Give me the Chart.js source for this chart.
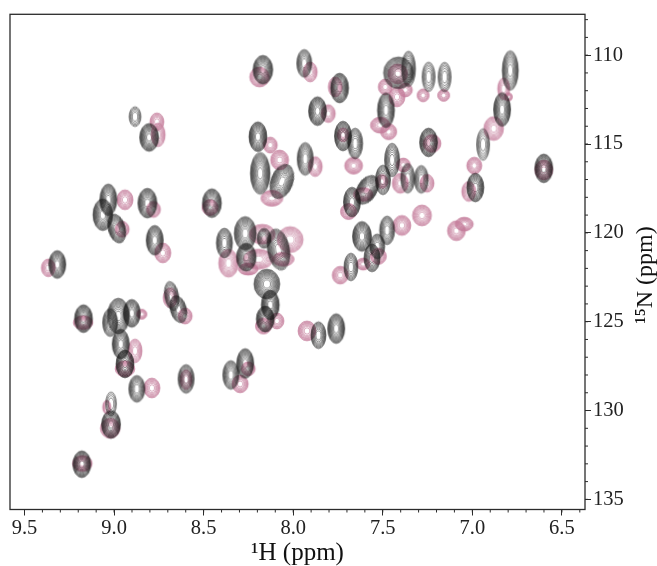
<!DOCTYPE html>
<html>
<head>
<meta charset="utf-8">
<title>HSQC</title>
<script src="https://cdn.jsdelivr.net/npm/chart.js@4"></script>
<style>
    body { margin: 0; background: #fff; }
    canvas { display: block; }
</style>
</head>
<body>
<canvas id="hsqc" width="657" height="566"></canvas>
<script>
// Тики осей
const hTicks = [9.5, 9.0, 8.5, 8.0, 7.5, 7.0, 6.5];
const nTicks = [110, 115, 120, 125, 130, 135];
const hMinorTicks = [9.5, 9.4, 9.3, 9.2, 9.1, 9.0, 8.9, 8.8, 8.7, 8.6, 8.5, 8.4, 8.3, 8.2, 8.1, 8.0, 7.9, 7.8, 7.7, 7.6, 7.5, 7.4, 7.3, 7.2, 7.1, 7.0, 6.9, 6.8, 6.7, 6.6, 6.5, 6.4];
const nMinorTicks = [108, 109, 110, 111, 112, 113, 114, 115, 116, 117, 118, 119, 120, 121, 122, 123, 124, 125, 126, 127, 128, 129, 130, 131, 132, 133, 134, 135];

// Тёмный спектр: положение пика (ppm), ширина пика (ppm), наклон (град)
const grayH = [8.169, 7.938, 7.864, 8.883, 8.804, 8.197, 8.184, 8.063, 7.933, 9.032, 9.063, 8.985, 8.814, 8.454, 8.773, 8.384, 8.268, 8.262, 8.082, 9.317, 8.147, 8.128, 8.156, 9.171, 8.976, 8.901, 9.022, 8.963, 8.939, 8.873, 8.598, 8.348, 8.268, 9.017, 9.017, 9.18, 8.678, 8.641, 7.859, 7.76, 7.741, 7.722, 7.654, 7.482, 7.412, 7.356, 7.244, 7.155, 6.788, 6.834, 6.94, 7.244, 6.601, 6.983, 7.448, 7.499, 7.588, 7.672, 7.361, 7.285, 7.616, 7.476, 7.56, 7.531, 7.678, 8.162];
const grayN = [110.82, 110.46, 113.15, 113.46, 114.63, 114.59, 116.65, 117.11, 115.84, 118.14, 118.98, 119.76, 118.33, 118.33, 120.42, 120.57, 120.03, 121.37, 120.94, 121.78, 122.88, 124.06, 124.85, 124.83, 124.68, 124.53, 125.05, 126.26, 127.38, 128.78, 128.22, 128.0, 127.35, 129.62, 130.78, 133.02, 123.56, 124.3, 125.76, 125.39, 111.85, 114.55, 114.97, 113.1, 110.99, 110.77, 111.22, 111.23, 110.86, 113.06, 115.03, 114.91, 116.37, 117.45, 115.9, 117.02, 117.58, 118.27, 116.93, 116.99, 120.2, 119.86, 121.41, 120.76, 121.92, 120.31];
const grayWidthH = [0.11, 0.084, 0.1, 0.067, 0.106, 0.1, 0.11, 0.123, 0.09, 0.095, 0.11, 0.095, 0.106, 0.106, 0.095, 0.09, 0.123, 0.11, 0.123, 0.095, 0.145, 0.1, 0.1, 0.1, 0.123, 0.095, 0.084, 0.095, 0.1, 0.09, 0.09, 0.09, 0.095, 0.061, 0.106, 0.1, 0.078, 0.09, 0.084, 0.095, 0.1, 0.095, 0.084, 0.095, 0.168, 0.078, 0.073, 0.073, 0.09, 0.095, 0.073, 0.1, 0.1, 0.095, 0.084, 0.084, 0.11, 0.095, 0.078, 0.078, 0.106, 0.084, 0.09, 0.084, 0.078, 0.078];
const grayWidthN = [1.62, 1.57, 1.62, 1.12, 1.57, 1.68, 2.35, 2.02, 1.85, 1.79, 1.79, 1.68, 1.68, 1.62, 1.68, 1.68, 1.9, 1.57, 2.35, 1.57, 1.68, 1.68, 1.46, 1.57, 2.02, 1.57, 1.57, 1.68, 1.57, 1.51, 1.62, 1.62, 1.68, 1.34, 1.57, 1.51, 1.68, 1.57, 1.51, 1.68, 1.68, 1.68, 1.74, 1.96, 1.79, 2.02, 1.68, 1.68, 2.24, 1.9, 1.79, 1.62, 1.62, 1.62, 1.9, 1.68, 1.79, 1.68, 1.68, 1.57, 1.68, 1.62, 1.57, 1.4, 1.57, 1.12];
const grayTilt = [0, 0, 0, 0, 0, 0, 0, 20, 0, 0, 0, -15, 0, 0, 0, 0, 0, 0, -10, 0, 0, 0, 0, 0, 0, 0, 0, 0, 0, 0, 0, 0, 0, 0, 0, 0, -10, -15, 0, 0, 0, 0, 0, 0, 0, 0, 0, 0, 0, 0, 0, 0, 0, 0, 0, 0, 30, 0, 0, 0, 0, 0, 0, 0, 0, 0];

// Розовый спектр
const pinkH = [8.188, 7.905, 7.804, 8.761, 8.754, 8.128, 8.076, 7.877, 8.939, 8.78, 8.464, 8.955, 8.728, 8.361, 9.367, 8.119, 8.017, 8.173, 8.195, 8.056, 8.251, 8.603, 8.687, 8.883, 8.939, 8.789, 8.598, 8.296, 8.251, 9.041, 9.022, 9.173, 8.845, 9.177, 8.166, 8.091, 7.923, 7.765, 7.721, 7.663, 7.514, 7.467, 7.421, 7.486, 7.374, 7.417, 7.275, 7.16, 6.825, 6.799, 6.881, 7.225, 6.989, 6.601, 7.02, 7.281, 7.393, 7.089, 7.045, 7.691, 7.609, 7.385, 7.253, 7.402, 7.737, 7.609, 7.525, 7.504];
const pinkN = [111.23, 110.95, 113.29, 113.75, 114.48, 115.06, 115.9, 116.27, 118.14, 118.68, 118.57, 119.8, 121.13, 121.71, 121.97, 118.05, 120.38, 120.08, 121.48, 121.48, 122.04, 124.68, 123.65, 126.64, 127.65, 128.73, 128.26, 128.5, 127.65, 129.81, 131.0, 125.05, 124.58, 132.98, 125.24, 124.96, 125.52, 111.79, 114.48, 116.22, 113.94, 114.31, 112.35, 111.79, 111.96, 111.05, 112.26, 112.26, 111.89, 112.35, 114.13, 114.97, 116.22, 116.46, 117.67, 119.02, 119.58, 119.88, 119.51, 118.8, 117.84, 116.18, 117.21, 117.21, 122.38, 121.76, 121.32, 117.11];
const pinkWidthH = [0.11, 0.078, 0.078, 0.078, 0.078, 0.078, 0.1, 0.078, 0.09, 0.078, 0.09, 0.078, 0.09, 0.11, 0.078, 0.123, 0.145, 0.145, 0.168, 0.123, 0.11, 0.078, 0.078, 0.078, 0.11, 0.09, 0.067, 0.09, 0.078, 0.045, 0.11, 0.11, 0.056, 0.11, 0.09, 0.078, 0.1, 0.078, 0.067, 0.1, 0.11, 0.09, 0.09, 0.078, 0.078, 0.11, 0.067, 0.067, 0.067, 0.045, 0.11, 0.1, 0.084, 0.1, 0.078, 0.106, 0.1, 0.1, 0.1, 0.09, 0.11, 0.078, 0.078, 0.09, 0.09, 0.078, 0.09, 0.067];
const pinkWidthN = [1.12, 1.12, 1.0, 1.0, 1.34, 0.9, 1.12, 1.12, 1.12, 0.9, 0.9, 0.9, 1.12, 1.57, 1.0, 0.9, 1.46, 1.12, 1.12, 0.78, 0.67, 0.9, 1.12, 1.34, 0.9, 1.12, 1.12, 1.0, 0.78, 0.78, 1.12, 0.78, 0.56, 0.9, 0.9, 0.9, 1.12, 1.12, 0.78, 0.95, 0.9, 0.9, 1.12, 0.9, 0.78, 1.12, 0.73, 0.67, 1.23, 0.45, 1.34, 1.0, 0.95, 1.12, 1.12, 1.18, 1.12, 1.12, 0.78, 0.9, 0.78, 0.78, 1.0, 1.12, 1.0, 0.67, 0.9, 0.78];

const serif = '"Liberation Serif", serif';
const inkColor = '#2b2b2b';

function buildPeaks(h, n, wH, wN, tilt) {
    return h.map(function(v, i) {
        return { x: v, y: n[i], wH: wH[i], wN: wN[i], tilt: tilt ? tilt[i] : 0 };
    });
}

// Картинка пика: концентрические контуры, шаг как у гауссова пика
const spriteCache = {};
function peakSprite(wPx, hPx, color, lineWidth, levels) {
    const key = [Math.round(wPx), Math.round(hPx), color].join('_');
    if (spriteCache[key]) return spriteCache[key];

    const size = Math.ceil(Math.max(wPx, hPx)) + 6;
    const c = document.createElement('canvas');
    c.width = size;
    c.height = size;
    const g = c.getContext('2d');
    g.filter = 'blur(0.35px)';
    g.strokeStyle = color;
    g.lineWidth = lineWidth;
    for (let k = 0; k < levels; k++) {
        const t = Math.sqrt(1 - k / levels);
        g.beginPath();
        g.ellipse(size / 2, size / 2, wPx / 2 * t, hPx / 2 * t, 0, 0, Math.PI * 2);
        g.stroke();
    }
    spriteCache[key] = c;
    return c;
}

function pxSize(ctx) {
    const sx = ctx.chart.scales.x;
    const sy = ctx.chart.scales.y;
    return {
        w: Math.abs(sx.getPixelForValue(8) - sx.getPixelForValue(8 + ctx.raw.wH)),
        h: Math.abs(sy.getPixelForValue(120) - sy.getPixelForValue(120 + ctx.raw.wN))
    };
}

function grayStyle(ctx) {
    const s = pxSize(ctx);
    const levels = Math.min(13, Math.max(4, Math.round(1.33 * s.w - 11)));
    return peakSprite(s.w, s.h, 'rgba(25,25,25,0.8)', 0.6, levels);
}

function pinkStyle(ctx) {
    const s = pxSize(ctx);
    const levels = Math.min(10, Math.round(s.w * 0.45) + 2);
    return peakSprite(s.w, s.h, 'rgba(196,125,155,0.9)', 0.7, levels);
}

// Рамка, мелкие риски и подпись оси 15N
const framePlugin = {
    id: 'frame',
    afterDraw: function(chart) {
        const g = chart.ctx;
        const a = chart.chartArea;
        const sx = chart.scales.x;
        const sy = chart.scales.y;
        g.save();
        g.strokeStyle = inkColor;
        g.lineWidth = 1.3;
        g.strokeRect(a.left, a.top, a.right - a.left, a.bottom - a.top);

        g.lineWidth = 1;
        g.beginPath();
        hMinorTicks.forEach(function(v) {
            const p = sx.getPixelForValue(v);
            g.moveTo(p, a.bottom);
            g.lineTo(p, a.bottom + 3);
        });
        nMinorTicks.forEach(function(v) {
            const p = sy.getPixelForValue(v);
            g.moveTo(a.right, p);
            g.lineTo(a.right + 3, p);
        });
        g.stroke();

        g.translate(652, 275);
        g.rotate(-Math.PI / 2);
        g.fillStyle = '#111';
        g.font = '24px ' + serif;
        g.textAlign = 'center';
        g.textBaseline = 'alphabetic';
        g.fillText('\u00B9\u2075N (ppm)', 0, 0);
        g.restore();
    }
};

new Chart(document.getElementById('hsqc'), {
    type: 'scatter',
    data: {
        datasets: [
            {
                label: 'gray',
                data: buildPeaks(grayH, grayN, grayWidthH, grayWidthN, grayTilt),
                order: 0,
                pointRadius: 5,
                pointStyle: grayStyle,
                pointRotation: function(ctx) { return ctx.raw.tilt; }
            },
            {
                label: 'pink',
                data: buildPeaks(pinkH, pinkN, pinkWidthH, pinkWidthN),
                order: 1,
                pointRadius: 5,
                pointStyle: pinkStyle
            }
        ]
    },
    options: {
        responsive: false,
        animation: false,
        layout: { padding: { left: 10, top: 12, right: 0, bottom: 0 } },
        plugins: { legend: { display: false }, tooltip: { enabled: false } },
        scales: {
            x: {
                type: 'linear',
                reverse: true,
                min: 6.371,
                max: 9.581,
                afterBuildTicks: function(s) { s.ticks = hTicks.map(function(v) { return { value: v }; }); },
                afterFit: function(s) { s.height = 56.5; },
                border: { display: false },
                grid: { drawOnChartArea: false, tickLength: 6, tickColor: inkColor, tickWidth: 1 },
                ticks: {
                    autoSkip: false,
                    maxRotation: 0,
                    color: '#222',
                    padding: 1,
                    font: { family: serif, size: 20.5 },
                    callback: function(v) { return Number(v).toFixed(1); }
                },
                title: {
                    display: true,
                    text: '\u00B9H (ppm)',
                    color: '#111',
                    font: { family: serif, size: 25 },
                    padding: { top: 0, bottom: -2 }
                }
            },
            y: {
                type: 'linear',
                position: 'right',
                reverse: true,
                min: 107.7,
                max: 135.57,
                afterBuildTicks: function(s) { s.ticks = nTicks.map(function(v) { return { value: v }; }); },
                afterFit: function(s) { s.width = 72; },
                border: { display: false },
                grid: { drawOnChartArea: false, tickLength: 6, tickColor: inkColor, tickWidth: 1 },
                ticks: {
                    autoSkip: false,
                    color: '#222',
                    padding: 2,
                    font: { family: serif, size: 20.5 },
                    callback: function(v) { return String(v); }
                }
            }
        }
    },
    plugins: [framePlugin]
});
</script>
</body>
</html>
